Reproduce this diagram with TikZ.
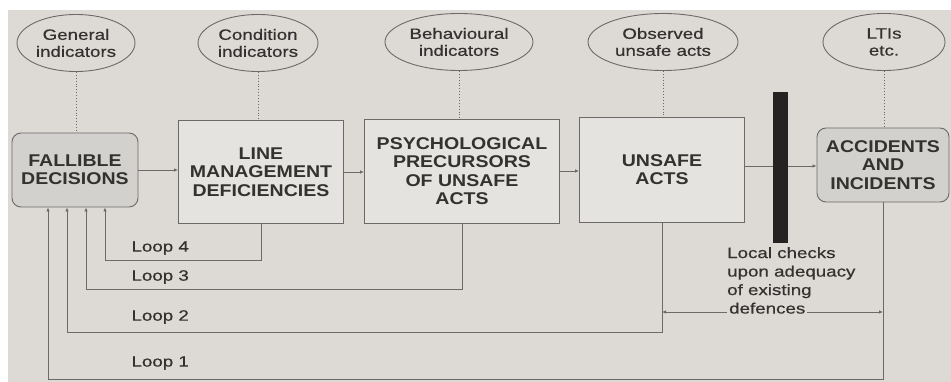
\documentclass[tikz,border=0pt]{standalone}
\usepackage{fontspec}
\setmainfont{Liberation Sans}[FakeStretch=1.25, FakeBold=0.6]
\newfontfamily\boxfont{Liberation Sans}[FakeStretch=1.15]
\usetikzlibrary{shapes.geometric, arrows.meta, positioning}
\definecolor{paper}{RGB}{221,218,213}
\definecolor{boxfill}{RGB}{229,227,223}
\definecolor{roundfill}{RGB}{211,209,206}
\definecolor{ink}{RGB}{52,50,49}
\definecolor{linegrey}{RGB}{108,106,104}
\definecolor{barblack}{RGB}{38,34,34}
\tikzset{
    box/.style={rectangle, draw=linegrey, line width=0.9pt, text=ink, align=center, inner sep=0pt, font=\boxfont\bfseries\fontsize{17}{18.3}\selectfont},
    stage/.style={box, fill=boxfill},
    outcome/.style={box, fill=roundfill, rounded corners=9pt},
    indicator/.style={ellipse, draw=linegrey, line width=0.9pt, fill=paper, text=ink, align=center, inner sep=0pt, minimum height=57pt, font=\fontsize{15}{17}\selectfont},
    arrow/.style={draw=linegrey, line width=0.9pt, -{Latex[length=4pt,width=3.5pt]}},
    twoway/.style={draw=linegrey, line width=0.9pt, {Latex[length=4pt,width=3.5pt]}-{Latex[length=4pt,width=3.5pt]}},
    link/.style={draw=linegrey, line width=0.9pt, dotted},
    looplabel/.style={anchor=west, text=ink, font=\fontsize{15}{17}\selectfont}
}

\begin{document}
\begin{tikzpicture}[x=1pt, y=-1pt]

% Paper
\fill[white] (0,0) rectangle (951,382);
\fill[paper] (8,10) rectangle (951,382);
\useasboundingbox (0,0) rectangle (951,382);

% Main chain
\node (fallible) [outcome, minimum width=126pt, minimum height=74pt] at (75,170) {FALLIBLE\\DECISIONS};
\node (linemgmt) [stage, minimum width=165pt, minimum height=103pt] at (261,172) {LINE\\MANAGEMENT\\DEFICIENCIES};
\node (psych) [stage, minimum width=195pt, minimum height=104pt] at (462,171) {PSYCHOLOGICAL\\PRECURSORS\\OF UNSAFE\\ACTS};
\node (unsafe) [stage, minimum width=165pt, minimum height=105pt] at (662,169.5) {UNSAFE\\ACTS};
\node (accidents) [outcome, minimum width=132pt, minimum height=74pt] at (883,165) {ACCIDENTS\\AND\\INCIDENTS};

% Indicators
\node (general) [indicator, minimum width=118pt] at (76,43) {General\\indicators};
\node (condition) [indicator, minimum width=120pt] at (258,43) {Condition\\indicators};
\node (behaviour) [indicator, minimum width=148pt] at (459,42) {Behavioural\\indicators};
\node (observed) [indicator, minimum width=150pt] at (663,42) {Observed\\unsafe acts};
\node (ltis) [indicator, minimum width=122pt] at (884,42) {LTIs\\etc.};

% Dotted links down to the boxes
\draw [link] (general.south) -- (general.south |- fallible.north);
\draw [link] (condition.south) -- (condition.south |- linemgmt.north);
\draw [link] (behaviour.south) -- (behaviour.south |- psych.north);
\draw [link] (observed.south) -- (observed.south |- unsafe.north);
\draw [link] (ltis.south) -- (ltis.south |- accidents.north);

% Forward flow
\draw [arrow] (fallible) -- (fallible -| linemgmt.west);
\draw [arrow] (linemgmt) -- (linemgmt -| psych.west);
\draw [arrow] (psych) -- (psych -| unsafe.west);
\draw [arrow] (unsafe.east |- 0,166) -- (accidents.west |- 0,166);

% Defences
\node (barrier) [fill=barblack, minimum width=15pt, minimum height=151pt, inner sep=0pt] at (780.5,167.5) {};

% Feedback loops
\coordinate (loop4) at (105,260);
\coordinate (loop3) at (86,289);
\coordinate (loop2) at (67,332);
\coordinate (loop1) at (48,379);
\draw [arrow] (linemgmt.south) |- (loop4) -- (loop4 |- fallible.south);
\draw [arrow] (psych.south) |- (loop3) -- (loop3 |- fallible.south);
\draw [arrow] (unsafe.south) |- (loop2) -- (loop2 |- fallible.south);
\draw [arrow] (accidents.south) |- (loop1) -- (loop1 |- fallible.south);

\node [looplabel] at (128,248) {Loop 4};
\node [looplabel] at (128,277) {Loop 3};
\node [looplabel] at (128,317) {Loop 2};
\node [looplabel] at (128,363) {Loop 1};

% Local checks
\coordinate (checkrow) at (0,312);
\draw [twoway] (unsafe.south |- checkrow) -- (accidents.south |- checkrow);
\node (checks) [anchor=north west, align=left, inner sep=0pt, text=ink, font=\fontsize{15}{18.5}\selectfont] at (727,247) {Local checks\\upon adequacy\\of existing\\{\fboxsep=2pt\colorbox{paper}{defences}}};

\end{tikzpicture}
\end{document}
